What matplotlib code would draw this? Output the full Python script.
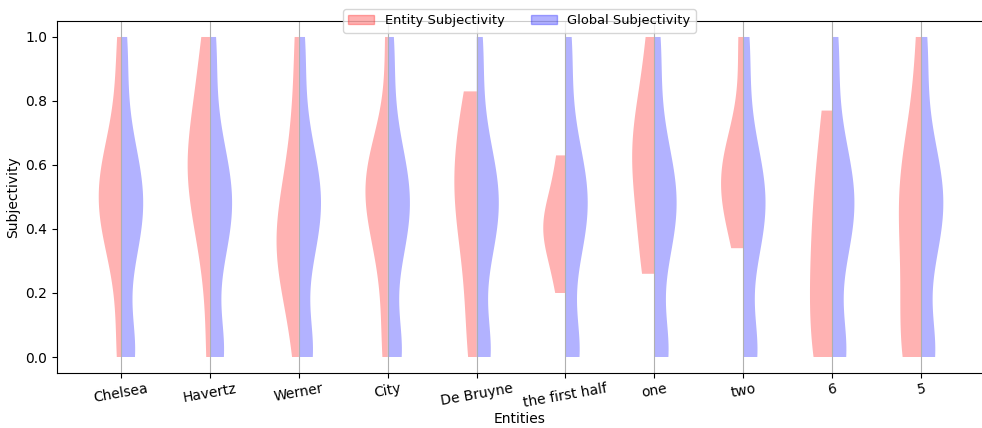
import matplotlib
matplotlib.use("Agg")
import matplotlib.pyplot as plt
import matplotlib.patches as mpatches
import numpy as np

entities = ["Chelsea", "Havertz", "Werner", "City", "De Bruyne",
            "the first half", "one", "two", "6", "5"]

# subjectivity of the sentences mentioning each entity
chelsea_subj = [0.0, 0.05, 0.26, 0.33, 0.37, 0.4, 0.42, 0.45, 0.47, 0.49,
                0.51, 0.53, 0.55, 0.58, 0.6, 0.63, 0.67, 0.74, 0.9, 1.0]
havertz_subj = [0.0, 0.3, 0.4, 0.48, 0.53, 0.57, 0.6, 0.63, 0.67, 0.72, 0.82, 0.92, 1.0]
werner_subj = [0.0, 0.2, 0.25, 0.3, 0.33, 0.36, 0.4, 0.45, 0.5, 0.6, 0.75, 1.0]
city_subj = [0.0, 0.05, 0.25, 0.35, 0.4, 0.45, 0.48, 0.5, 0.52, 0.55,
             0.58, 0.6, 0.62, 0.65, 1.0]
debruyne_subj = [0.0, 0.1, 0.3, 0.42, 0.48, 0.52, 0.58, 0.66, 0.75, 0.83]
first_half_subj = [0.2, 0.4, 0.4, 0.42, 0.63]
one_subj = [0.26, 0.35, 0.55, 0.62, 0.68, 0.75, 1.0]
two_subj = [0.34, 0.47, 0.52, 0.56, 0.6, 0.66, 1.0]
six_subj = [0.0, 0.0, 0.15, 0.3, 0.42, 0.55, 0.77]
five_subj = [0.0, 0.0, 0.0, 0.05, 0.15, 0.3, 0.4, 0.45, 0.5, 0.55, 0.6, 0.7, 1.0]

entity_subj = [chelsea_subj, havertz_subj, werner_subj, city_subj, debruyne_subj,
               first_half_subj, one_subj, two_subj, six_subj, five_subj]

# subjectivity of every sentence in the article
global_subj = [
    0.0, 0.0, 0.0, 0.0, 0.0, 0.0, 0.0, 0.0, 0.0, 0.0, 0.0, 0.0,
    0.0, 0.0, 0.0, 0.0, 0.0, 0.0, 0.0, 0.0, 0.0, 0.0, 0.0, 0.1,
    0.15, 0.18, 0.21, 0.24, 0.26, 0.27, 0.29, 0.3, 0.31, 0.32, 0.33, 0.34,
    0.35, 0.36, 0.37, 0.38, 0.38, 0.39, 0.4, 0.4, 0.41, 0.42, 0.42, 0.43,
    0.44, 0.44, 0.45, 0.45, 0.46, 0.47, 0.47, 0.48, 0.48, 0.49, 0.5, 0.5,
    0.51, 0.51, 0.52, 0.53, 0.53, 0.54, 0.54, 0.55, 0.56, 0.56, 0.57, 0.58,
    0.59, 0.59, 0.6, 0.61, 0.62, 0.63, 0.64, 0.65, 0.66, 0.67, 0.69, 0.7,
    0.72, 0.75, 0.78, 0.85, 0.8, 0.85, 0.9, 0.9,
    1.0, 1.0, 1.0, 1.0, 1.0, 1.0, 1.0, 1.0,
]


def half_violin(ax, data, positions, color, side):
    parts = ax.violinplot(data, positions=positions, showextrema=False)
    for body in parts["bodies"]:
        verts = body.get_paths()[0].vertices
        m = np.mean(verts[:, 0])
        if side == "left":
            verts[:, 0] = np.clip(verts[:, 0], -np.inf, m)
        else:
            verts[:, 0] = np.clip(verts[:, 0], m, np.inf)
        body.set_facecolor(color)
        body.set_edgecolor("none")
        body.set_alpha(0.3)


fig = plt.figure(figsize=(9.82, 4.28), dpi=100)
ax = fig.add_axes([0.058, 0.1285, 0.942, 0.8225])

pos = np.arange(len(entities))
half_violin(ax, entity_subj, pos, "red", "left")
half_violin(ax, [global_subj] * len(entities), pos, "blue", "right")

ax.set_xticks(pos)
ax.set_xticklabels(entities, rotation=10)
ax.tick_params(axis="x", pad=2.5)
ax.set_xlim(-0.72, 9.685)
ax.set_ylim(-0.05, 1.05)
ax.set_yticks(np.arange(0, 1.01, 0.2))
ax.xaxis.grid(True)
ax.spines["right"].set_visible(False)
ax.set_xlabel("Entities", labelpad=1.5)
ax.set_ylabel("Subjectivity")

handles = [mpatches.Patch(color="red", alpha=0.3, label="Entity Subjectivity"),
           mpatches.Patch(color="blue", alpha=0.3, label="Global Subjectivity")]
ax.legend(handles=handles, loc="center", bbox_to_anchor=(0.5, 1.0), ncol=2, fontsize=9.4)

fig.savefig("out.png", dpi=100)
